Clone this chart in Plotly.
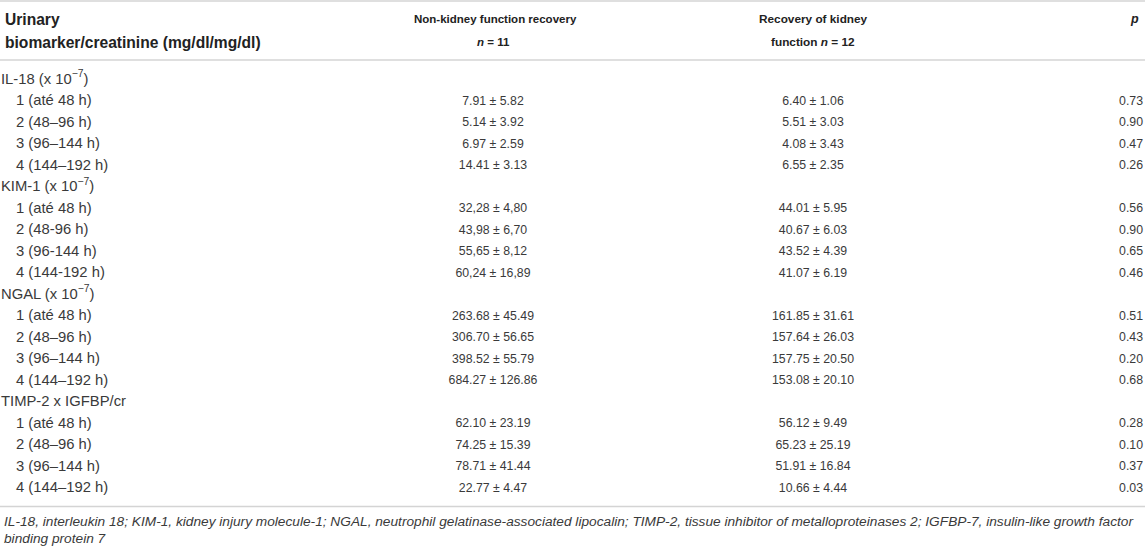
import plotly.graph_objects as go

# Contenu du tableau
groupes = ["IL-18 (x 10<sup>−7</sup>)", "KIM-1 (x 10<sup>−7</sup>)", "NGAL (x 10<sup>−7</sup>)", "TIMP-2 x IGFBP/cr"]
periodes = [
    ["1 (até 48 h)", "2 (48–96 h)", "3 (96–144 h)", "4 (144–192 h)"],
    ["1 (até 48 h)", "2 (48-96 h)", "3 (96-144 h)", "4 (144-192 h)"],
    ["1 (até 48 h)", "2 (48–96 h)", "3 (96–144 h)", "4 (144–192 h)"],
    ["1 (até 48 h)", "2 (48–96 h)", "3 (96–144 h)", "4 (144–192 h)"],
]
non_recup = [
    ["7.91 ± 5.82", "5.14 ± 3.92", "6.97 ± 2.59", "14.41 ± 3.13"],
    ["32,28 ± 4,80", "43,98 ± 6,70", "55,65 ± 8,12", "60,24 ± 16,89"],
    ["263.68 ± 45.49", "306.70 ± 56.65", "398.52 ± 55.79", "684.27 ± 126.86"],
    ["62.10 ± 23.19", "74.25 ± 15.39", "78.71 ± 41.44", "22.77 ± 4.47"],
]
recup = [
    ["6.40 ± 1.06", "5.51 ± 3.03", "4.08 ± 3.43", "6.55 ± 2.35"],
    ["44.01 ± 5.95", "40.67 ± 6.03", "43.52 ± 4.39", "41.07 ± 6.19"],
    ["161.85 ± 31.61", "157.64 ± 26.03", "157.75 ± 20.50", "153.08 ± 20.10"],
    ["56.12 ± 9.49", "65.23 ± 25.19", "51.91 ± 16.84", "10.66 ± 4.44"],
]
p_valeurs = [
    ["0.73", "0.90", "0.47", "0.26"],
    ["0.56", "0.90", "0.65", "0.46"],
    ["0.51", "0.43", "0.20", "0.68"],
    ["0.28", "0.10", "0.37", "0.03"],
]
notes = [
    "IL-18, interleukin 18; KIM-1, kidney injury molecule-1; NGAL, neutrophil gelatinase-associated lipocalin; "
    "TIMP-2, tissue inhibitor of metalloproteinases 2; IGFBP-7, insulin-like growth factor",
    "binding protein 7",
]

# Mise en page (pixels)
W, H = 1145, 553
Y0, DY = 80, 21.5
GRIS = "#d4d4d4"
TEXTE = "#3a3a3a"
POLICE = "Liberation Sans, Arial, sans-serif"

# Construction des lignes
lab_g, y_g = [], []
lab_p, y_p = [], []
col2, col3, colp, y_v = [], [], [], []
i = 0
for k, g in enumerate(groupes):
    lab_g.append(g)
    y_g.append(Y0 + i * DY)
    i += 1
    for j in range(4):
        y = Y0 + i * DY
        lab_p.append(periodes[k][j])
        y_p.append(y)
        col2.append(non_recup[k][j])
        col3.append(recup[k][j])
        colp.append(p_valeurs[k][j])
        y_v.append(y)
        i += 1
y_fin = Y0 + (i - 1) * DY

fig = go.Figure()
fig.add_trace(go.Scatter(x=[1] * len(lab_g), y=y_g, text=lab_g, mode="text", textposition="middle right",
                         textfont=dict(family=POLICE, size=14.8, color=TEXTE), hoverinfo="skip"))
fig.add_trace(go.Scatter(x=[16] * len(lab_p), y=y_p, text=lab_p, mode="text", textposition="middle right",
                         textfont=dict(family=POLICE, size=14.8, color=TEXTE), hoverinfo="skip"))
fig.add_trace(go.Scatter(x=[493] * len(col2), y=y_v, text=col2, mode="text", textposition="middle center",
                         textfont=dict(family=POLICE, size=12.3, color=TEXTE), hoverinfo="skip"))
fig.add_trace(go.Scatter(x=[813] * len(col3), y=y_v, text=col3, mode="text", textposition="middle center",
                         textfont=dict(family=POLICE, size=12.3, color=TEXTE), hoverinfo="skip"))
fig.add_trace(go.Scatter(x=[1143] * len(colp), y=y_v, text=colp, mode="text", textposition="middle left",
                         textfont=dict(family=POLICE, size=12.3, color=TEXTE), hoverinfo="skip"))

# En-têtes
entetes = [
    (3, "left", "<b>Urinary</b>", 19, 15.6),
    (3, "left", "<b>biomarker/creatinine (mg/dl/mg/dl)</b>", 42, 15.6),
    (495, "center", "<b>Non-kidney function recovery</b>", 19, 11.5),
    (493, "center", "<b><i>n</i> = 11</b>", 42, 11.5),
    (813, "center", "<b>Recovery of kidney</b>", 19, 11.8),
    (813, "center", "<b>function <i>n</i> = 12</b>", 42, 11.8),
    (1141, "right", "<b><i>p</i></b>", 19, 12.5),
]
for x, anc, txt, y, taille in entetes:
    fig.add_annotation(x=x, y=y, xref="x", yref="y", text=txt, showarrow=False, xanchor=anc, yanchor="middle",
                       font=dict(family=POLICE, size=taille, color="#222222"))

# Note de bas de tableau
for n, ligne in enumerate(notes):
    fig.add_annotation(x=2, y=y_fin + 33 + n * 17, xref="x", yref="y", text="<i>" + ligne + "</i>",
                       showarrow=False, xanchor="left", yanchor="middle",
                       font=dict(family=POLICE, size=13.7, color=TEXTE))

# Filets horizontaux
for y in [1, 60, y_fin + 18]:
    fig.add_shape(type="line", x0=0, x1=W, y0=y, y1=y, xref="x", yref="y", line=dict(color=GRIS, width=1.5))

fig.update_xaxes(range=[0, W], visible=False, fixedrange=True)
fig.update_yaxes(range=[H, 0], visible=False, fixedrange=True)
fig.update_layout(width=W, height=H, margin=dict(l=0, r=0, t=0, b=0), showlegend=False,
                  plot_bgcolor="white", paper_bgcolor="white")

fig.write_html("out.html", config={"displayModeBar": False},
               post_script="document.body.style.margin='0px';")
